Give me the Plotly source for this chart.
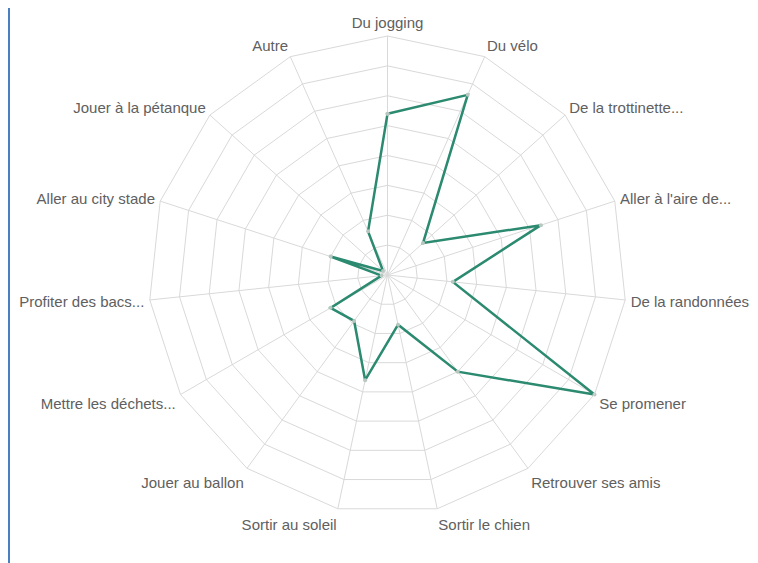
import plotly.graph_objects as go

categories = ["Du jogging", "Du vélo", "De la trottinette...", "Aller à l'aire de...",
              "De la randonnées", "Se promener", "Retrouver ses amis", "Sortir le chien",
              "Sortir au soleil", "Jouer au ballon", "Mettre les déchets...",
              "Profiter des bacs...", "Aller au city stade", "Jouer à la pétanque", "Autre"]
values = [27, 33, 8, 27, 11, 40, 20, 8.5, 18, 9.5, 11, 1, 10, 1, 8]

W, H = 750, 555
cx, cy, R = 379.5, 267, 239

fig = go.Figure()
fig.add_trace(go.Scatterpolar(
    r=values + [values[0]],
    theta=categories + [categories[0]],
    mode="lines+markers",
    line=dict(color="#2b8a6f", width=2.5),
    marker=dict(size=4, color="#b8c8c0"),
    hoverinfo="skip",
    showlegend=False,
))

fig.update_layout(
    width=W, height=H,
    margin=dict(l=0, r=0, t=0, b=0),
    paper_bgcolor="white",
    plot_bgcolor="white",
    font=dict(family="Liberation Sans, Arial, sans-serif", size=15, color="#606060"),
    polar=dict(
        domain=dict(x=[(cx - R) / W, (cx + R) / W], y=[(H - cy - R) / H, (H - cy + R) / H]),
        bgcolor="white",
        gridshape="linear",
        radialaxis=dict(range=[0, 40], dtick=5, showticklabels=False, ticks="",
                        showline=False, gridcolor="#d9d9d9", gridwidth=1),
        angularaxis=dict(rotation=90, direction="clockwise", ticks="outside",
                         ticklen=2, tickcolor="rgba(0,0,0,0)",
                         showline=True, linecolor="#d9d9d9", linewidth=1,
                         gridcolor="#d9d9d9", gridwidth=1,
                         tickfont=dict(size=15, color="#606060")),
    ),
    shapes=[dict(type="line", xref="paper", yref="paper", x0=1 / W, x1=1 / W, y0=0, y1=1,
                 line=dict(color="#4a7fc1", width=2))],
)

fig.write_html("out.html")
